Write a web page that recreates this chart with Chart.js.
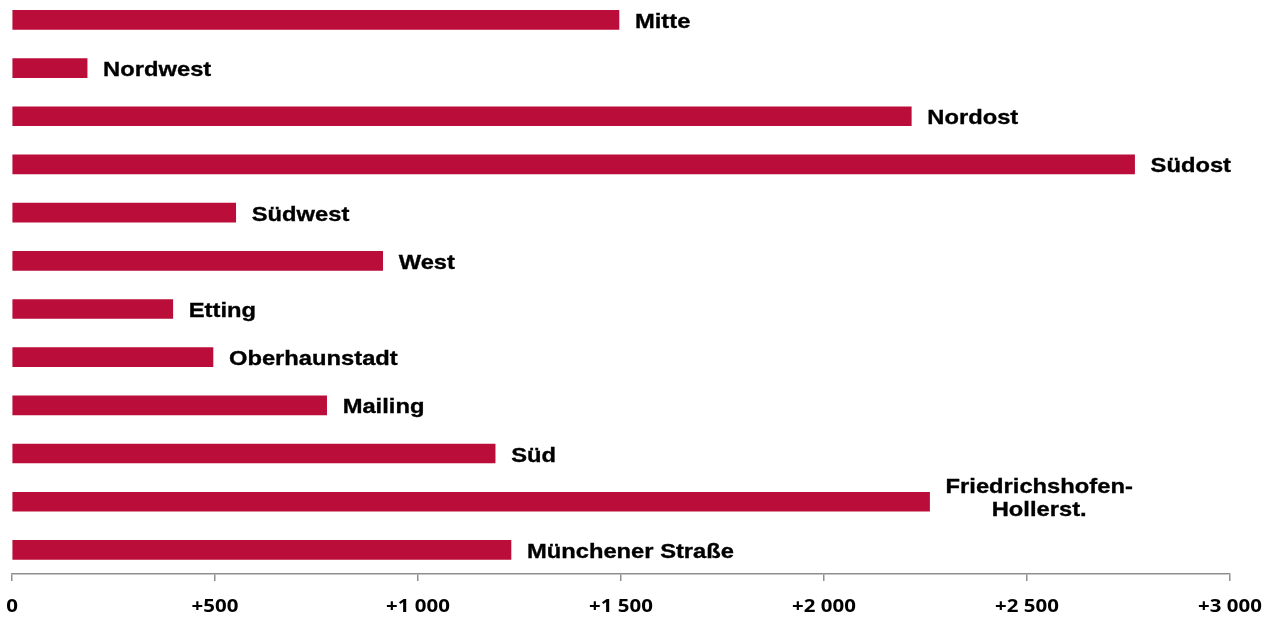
<!DOCTYPE html>
<html>
<head>
<meta charset="utf-8">
<script src="https://cdn.jsdelivr.net/npm/chart.js@4/dist/chart.umd.min.js"></script>
<style>
  html, body { margin: 0; padding: 0; background: #ffffff; overflow: hidden; }
  #wrap { position: absolute; left: 0; top: -5px; width: 1277px; height: 624px; }
</style>
</head>
<body>
<div id="wrap"><canvas id="c"></canvas></div>
<script>
// ---- data ----
const categories = [
  'Mitte', 'Nordwest', 'Nordost', 'Südost', 'Südwest', 'West',
  'Etting', 'Oberhaunstadt', 'Mailing', 'Süd',
  ['Friedrichshofen-', 'Hollerst.'], 'Münchener Straße'
];
const values = [1495, 185, 2215, 2765, 551, 913, 396, 495, 775, 1190, 2260, 1229];
const tickValues = [0, 500, 1000, 1500, 2000, 2500, 3000];
const tickLabels = ['0', '+500', '+1 000', '+1 500', '+2 000', '+2 500', '+3 000'];

const barColor = '#BA0D39';
const axisColor = '#8f8f8f';

const labelPlugin = {
  id: 'barLabels',
  afterDatasetsDraw(chart) {
    const ctx = chart.ctx;
    const meta = chart.getDatasetMeta(0);
    const sx = 1.13;
    ctx.save();
    ctx.fillStyle = '#000000';
    ctx.strokeStyle = '#000000';
    ctx.lineWidth = 0.35;
    ctx.font = 'bold 21px "Liberation Sans", Arial, sans-serif';
    ctx.textBaseline = 'alphabetic';
    const put = (s, x, y) => {
      ctx.save();
      ctx.translate(x, y);
      ctx.scale(sx, 1);
      ctx.textAlign = 'left';
      ctx.fillText(s, 0, 0);
      ctx.strokeText(s, 0, 0);
      ctx.restore();
    };
    meta.data.forEach((bar, i) => {
      const lab = categories[i];
      const x0 = bar.x + 16;
      if (Array.isArray(lab)) {
        const widths = lab.map(s => ctx.measureText(s).width * sx);
        const maxW = Math.max(...widths);
        const cx = x0 + maxW / 2;
        const baselines = [bar.y - 8.8, bar.y + 14.5];
        lab.forEach((s, k) => put(s, cx - widths[k] / 2, baselines[k]));
      } else {
        put(lab, x0, bar.y + 8);
      }
    });
    ctx.restore();
  },
  afterDraw(chart) {
    const ctx = chart.ctx;
    const xs = chart.scales.x;
    const sx = 1.1;
    ctx.save();
    ctx.fillStyle = '#000000';
    ctx.font = '700 18.6px "Open Sans", Lato, sans-serif';
    ctx.textBaseline = 'alphabetic';
    ctx.textAlign = 'center';
    const base = xs.top + 38;
    tickValues.forEach((v, i) => {
      const px = xs.getPixelForValue(v);
      ctx.save();
      ctx.translate(px, base);
      ctx.scale(sx, 1);
      ctx.fillText(tickLabels[i], 0, 0);
      ctx.restore();
    });
    ctx.restore();
  }
};

new Chart(document.getElementById('c'), {
  type: 'bar',
  data: {
    labels: categories,
    datasets: [{
      data: values,
      backgroundColor: barColor,
      borderWidth: 0,
      barThickness: 19
    }]
  },
  options: {
    indexAxis: 'y',
    responsive: true,
    maintainAspectRatio: false,
    animation: false,
    layout: { padding: { left: 12, right: 47, top: 0.8, bottom: 38 } },
    plugins: { legend: { display: false }, tooltip: { enabled: false } },
    scales: {
      x: {
        type: 'linear',
        min: 0,
        max: 3000,
        afterBuildTicks(scale) { scale.ticks = tickValues.map(v => ({ value: v })); },
        ticks: { display: false },
        grid: {
          display: true,
          drawOnChartArea: false,
          drawTicks: true,
          tickLength: 7,
          color: axisColor,
          lineWidth: 1.5
        },
        border: { display: true, color: axisColor, width: 1.5 }
      },
      y: {
        display: false,
        offset: true,
        grid: { display: false }
      }
    }
  },
  plugins: [labelPlugin]
});
</script>
</body>
</html>
